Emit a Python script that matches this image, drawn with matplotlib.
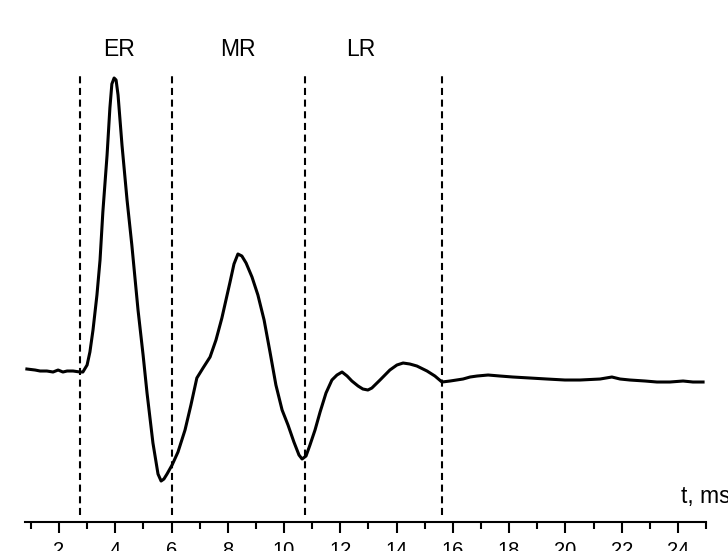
import matplotlib
matplotlib.use("Agg")
import matplotlib.pyplot as plt
from matplotlib.ticker import MultipleLocator

plt.rcParams['font.family'] = ['Liberation Sans', 'DejaVu Sans']

# response trace, time in ms, amplitude in arbitrary units
t_ms = [0.86, 1.15, 1.33, 1.57, 1.79, 1.97, 2.14, 2.29, 2.50, 2.75, 2.85,
        3.00, 3.10, 3.21, 3.35, 3.46, 3.56, 3.71, 3.81, 3.88, 3.96, 4.03,
        4.10, 4.24, 4.42, 4.59, 4.81, 4.99, 5.13, 5.34, 5.52, 5.63, 5.73,
        5.84, 6.02, 6.23, 6.48, 6.69, 6.90, 7.12, 7.37, 7.58, 7.79, 8.08,
        8.22, 8.36, 8.50, 8.65, 8.86, 9.07, 9.29, 9.50, 9.71, 9.93, 10.14,
        10.35, 10.53, 10.64, 10.78, 10.92, 11.10, 11.28, 11.49, 11.70,
        11.88, 12.06, 12.24, 12.41, 12.63, 12.80, 12.98, 13.12, 13.41,
        13.76, 14.01, 14.23, 14.47, 14.72, 15.08, 15.36, 15.61, 15.90,
        16.36, 16.61, 16.86, 17.25, 17.67, 18.13, 18.74, 19.34, 19.98,
        20.52, 21.23, 21.65, 21.94, 22.29, 22.83, 23.25, 23.71, 24.18,
        24.53, 24.89]
amp = [0.01, 0.00, -0.01, -0.01, -0.02, 0.00, -0.02, -0.01, -0.01, -0.02, -0.02,
       0.05, 0.18, 0.40, 0.75, 1.10, 1.58, 2.15, 2.62, 2.86, 2.92, 2.90,
       2.75, 2.25, 1.70, 1.25, 0.60, 0.15, -0.23, -0.73, -1.04, -1.11, -1.09,
       -1.04, -0.95, -0.82, -0.60, -0.35, -0.08, 0.02, 0.13, 0.30, 0.52, 0.88,
       1.06, 1.16, 1.14, 1.07, 0.93, 0.75, 0.50, 0.18, -0.15, -0.40, -0.55,
       -0.72, -0.85, -0.89, -0.86, -0.75, -0.60, -0.42, -0.23, -0.10,
       -0.05, -0.02, -0.06, -0.11, -0.16, -0.19, -0.20, -0.18, -0.10,
       0.00, 0.05, 0.07, 0.06, 0.04, -0.01, -0.06, -0.12, -0.11,
       -0.09, -0.07, -0.06, -0.05, -0.06, -0.07, -0.08, -0.09, -0.10,
       -0.10, -0.09, -0.07, -0.09, -0.10, -0.11, -0.12, -0.12, -0.11,
       -0.12, -0.12]

# region borders and labels
borders = [2.75, 6.0, 10.75, 15.62]
region_names = ["ER", "MR", "LR"]
region_pos = [4.13, 8.36, 12.73]

fig = plt.figure(figsize=(7.28, 5.51), dpi=100)
ax = fig.add_axes([0.0346, 0.0526, 0.9354, 0.9474])

ax.plot(t_ms, amp, color="black", lw=2.2, solid_joinstyle="round")
for b in borders:
    ax.plot([b, b], [-1.45, 2.97], color="black", lw=1.5, dashes=(3.4, 2.2))

for name, pos in zip(region_names, region_pos):
    ax.text(pos, 3.14, name, ha="center", va="baseline", fontsize=16.5)

ax.set_xlim(0.8, 25.0)
ax.set_ylim(-1.52, 3.70)

for s in ["left", "right", "top"]:
    ax.spines[s].set_visible(False)
ax.spines["bottom"].set_linewidth(1.5)
ax.set_yticks([])
ax.xaxis.set_major_locator(MultipleLocator(2))
ax.xaxis.set_minor_locator(MultipleLocator(1))
ax.tick_params(axis="x", which="major", length=8, width=1.5, labelsize=14.5, pad=5.5)
ax.tick_params(axis="x", which="minor", length=5, width=1.5)

# axis name sits at the right edge, partly cut like the original
fig.text(0.936, 0.087, "t, ms", fontsize=16.5, va="baseline", ha="left")

fig.savefig("out.png", dpi=100)
